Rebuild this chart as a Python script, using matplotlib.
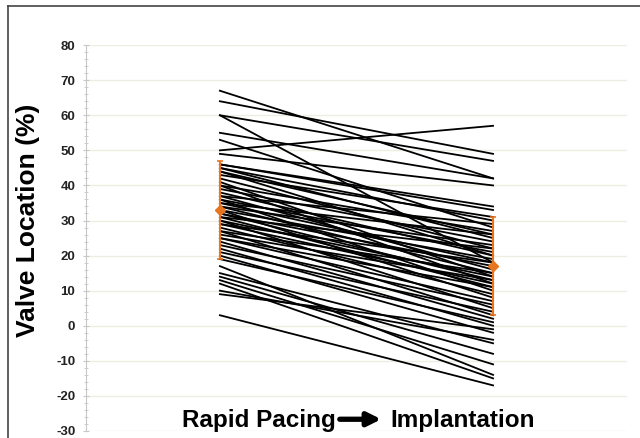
import matplotlib
matplotlib.use("Agg")
import matplotlib.pyplot as plt
from matplotlib.ticker import MultipleLocator
from matplotlib.lines import Line2D
import numpy as np

# --- data ---
stages = ["Rapid Pacing", "Implantation"]

pacing = [67, 64, 60, 60, 55, 53, 50, 49, 46, 46, 45, 45, 44, 44, 43, 42,
          41, 40, 40, 39, 38, 37, 37, 36, 36, 35, 35, 34, 34, 33, 33, 32,
          32, 31, 31, 30, 30, 29, 29, 28, 27, 27, 26, 25, 25, 24, 23, 22,
          21, 20, 19, 17, 15, 14, 13, 12, 10, 9, 3]
implant = [42, 49, 47, 18, 42, 28, 57, 40, 34, 33, 30, 25, 20, 26, 31, 22,
           14, 27, 12, 24, 20, 29, 16, 21, 10, 18, 26, 15, 23, 19, 8, 13,
           17, 22, 11, 14, 5, 18, 12, 9, 15, 3, 13, 7, 11, 2, 6, 0,
           4, -2, 1, -14, -5, -8, -11, -15, -4, -1, -17]

means = [33, 17]
sds = [14, 14]

ORANGE = "#e8741e"

plt.rcParams.update({
    "font.family": "Liberation Sans",
    "font.weight": "bold",
    "axes.unicode_minus": False,
})

fig = plt.figure(figsize=(6.4, 4.38), dpi=100)
ax = fig.add_axes([0.134, 0.016, 0.846, 0.881])

for a, b in zip(pacing, implant):
    ax.plot([0, 1], [a, b], color="black", linewidth=1.3, zorder=2)

ax.errorbar([0, 1], means, yerr=sds, color=ORANGE, marker="D", markersize=5,
            linestyle="none", elinewidth=1.5, capsize=2.5, capthick=1.2, zorder=3)

ax.set_xlim(-0.491, 1.491)
ax.set_ylim(-30, 80)
ax.yaxis.set_major_locator(MultipleLocator(10))
ax.yaxis.set_minor_locator(MultipleLocator(2))
ax.grid(axis="y", color="#eeede2", linewidth=1.0, zorder=0)
ax.set_xticks([])

for side in ["top", "right", "bottom"]:
    ax.spines[side].set_visible(False)
ax.spines["left"].set_color("#c8c8c8")
ax.tick_params(axis="y", which="major", direction="inout", length=5,
               color="#c8c8c8", labelsize=9.5, labelcolor="#222222", pad=5)
ax.tick_params(axis="y", which="minor", direction="inout", length=3, color="#c8c8c8")
for lbl in ax.get_yticklabels():
    lbl.set_fontweight("bold")

ax.set_ylabel("Valve Location (%)", fontsize=19, fontweight="bold")
ax.yaxis.set_label_coords(-0.085, 0.547)

# x label with arrow
ypos = 1 - 421 / 438
fig.text(182 / 640, ypos, stages[0], fontsize=17.5, fontweight="bold",
         ha="left", va="center")
fig.text(390 / 640, ypos, stages[1], fontsize=17.5, fontweight="bold",
         ha="left", va="center")
ax.annotate("", xy=(384 / 640, ypos + 0.004), xytext=(337 / 640, ypos + 0.004),
            xycoords="figure fraction", textcoords="figure fraction",
            arrowprops=dict(arrowstyle="-|>,head_length=0.8,head_width=0.4",
                            color="black", lw=3.8))

# frame lines at left and top
fig.add_artist(Line2D([8 / 640, 8 / 640], [0, 1 - 6 / 438], color="#444444", lw=1.2))
fig.add_artist(Line2D([8 / 640, 1], [1 - 6 / 438, 1 - 6 / 438], color="#444444", lw=1.2))

fig.savefig("out.png", dpi=100)
